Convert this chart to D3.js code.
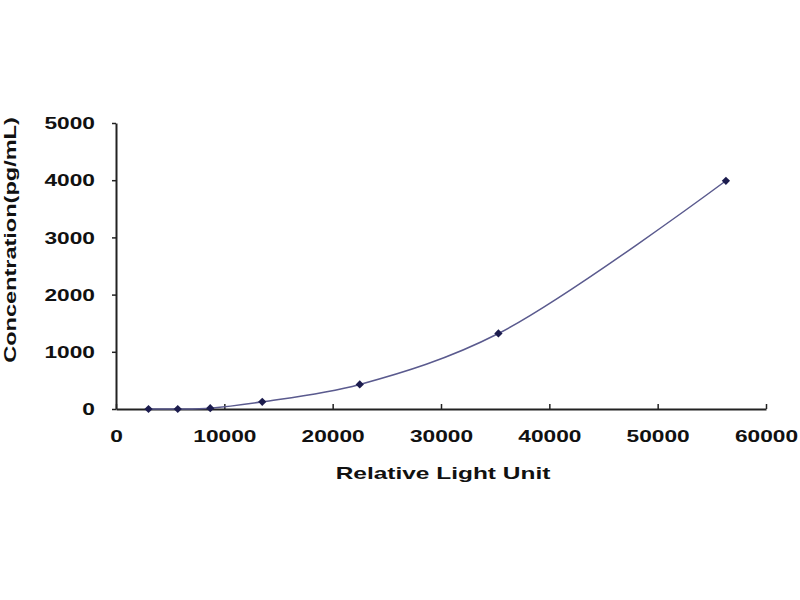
<!DOCTYPE html>
<html lang="en">
<head>
  <meta charset="utf-8">
  <title>Standard Curve</title>
  <script src="https://d3js.org/d3.v7.min.js"></script>
  <style>
    body { margin: 0; background: #fff; }
  </style>
</head>
<body>
  <script>
    // standard curve points
    const rlu = [3000, 5700, 8700, 13500, 22500, 35300, 56300]
    const conc = [0, 0, 15, 125, 430, 1320, 3990]
    const xTicks = [0, 10000, 20000, 30000, 40000, 50000, 60000]
    const yTicks = [0, 1000, 2000, 3000, 4000, 5000]

    const width = 800, height = 600
    const stretch = 1.42 // the source image is squeezed wide, so text is too

    const x = d3.scaleLinear().domain([0, 60000]).range([116, 766])
    const y = d3.scaleLinear().domain([0, 5000]).range([409, 123])

    const svg = d3.select("body").append("svg")
      .attr("width", width)
      .attr("height", height)
      .attr("font-family", "Liberation Sans, Arial, sans-serif")
      .attr("font-weight", "bold")

    // x axis, ticks pointing up into the plot
    const gx = svg.append("g")
      .attr("transform", `translate(0,${y(0)})`)
      .call(d3.axisBottom(x).tickValues(xTicks).tickSize(-5).tickSizeOuter(0).tickFormat(d3.format("d")))
    gx.select(".domain").attr("stroke", "#222").attr("stroke-width", 2)
    gx.selectAll(".tick line").attr("stroke", "#222").attr("stroke-width", 1.5)
    gx.selectAll(".tick text")
      .attr("fill", "#111")
      .attr("font-size", 16)
      .attr("y", 0)
      .attr("dy", 0)
      .attr("transform", `translate(0,33) scale(${stretch},1)`)

    // y axis, ticks outward
    const gy = svg.append("g")
      .attr("transform", `translate(${x(0)},0)`)
      .call(d3.axisLeft(y).tickValues(yTicks).tickSize(4).tickSizeOuter(0).tickFormat(d3.format("d")))
    gy.select(".domain").attr("stroke", "#222").attr("stroke-width", 2)
    gy.selectAll(".tick line").attr("stroke", "#222").attr("stroke-width", 1.5)
    gy.selectAll(".tick text")
      .attr("fill", "#111")
      .attr("font-size", 16)
      .attr("x", 0)
      .attr("dy", "0.35em")
      .attr("transform", `translate(-21,0) scale(${stretch},1)`)

    // axis titles
    svg.append("text")
      .attr("text-anchor", "middle")
      .attr("font-size", 16)
      .attr("fill", "#111")
      .attr("transform", `translate(443,479) scale(1.53,1)`)
      .text("Relative Light Unit")

    svg.append("text")
      .attr("text-anchor", "middle")
      .attr("font-size", 16)
      .attr("fill", "#111")
      .attr("transform", `translate(16,240) rotate(-90) scale(1.47,1)`)
      .text("Concentration(pg/mL)")

    const pts = rlu.map((v, i) => [v, conc[i]])

    // smoothed fit line
    const line = d3.line()
      .x(d => x(d[0]))
      .y(d => y(d[1]))
      .curve(d3.curveCatmullRom.alpha(0.5))

    svg.append("path")
      .datum(pts)
      .attr("fill", "none")
      .attr("stroke", "#5a5a8e")
      .attr("stroke-width", 1.5)
      .attr("d", line)

    // diamond markers: squares turned 45 degrees
    svg.append("g")
      .selectAll("path")
      .data(pts)
      .join("path")
      .attr("transform", d => `translate(${x(d[0])},${y(d[1])}) rotate(45)`)
      .attr("d", d3.symbol(d3.symbolSquare, 34))
      .attr("fill", "#1c1c4e")
  </script>
</body>
</html>
